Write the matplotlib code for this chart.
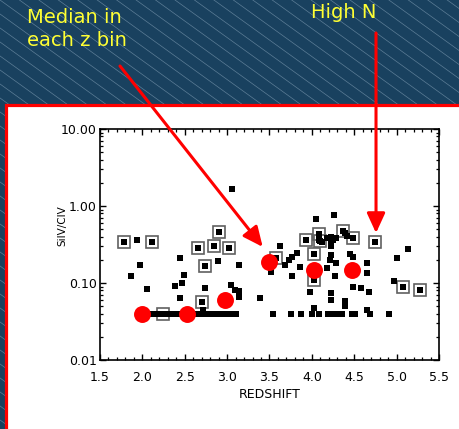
import matplotlib
matplotlib.use('Agg')
import matplotlib.pyplot as plt
from matplotlib.patches import Rectangle
from matplotlib.lines import Line2D
from matplotlib.ticker import FixedLocator, MultipleLocator, LogLocator, FuncFormatter, NullFormatter

W, H = 460, 429

# ---- data ----
plain_z = [1.94, 1.97, 1.87, 2.06,
           2.44, 2.49, 2.47, 2.39, 2.44,
           2.89, 2.74, 2.72,
           3.06, 3.14, 3.04, 3.09, 3.14, 3.14, 3.39,
           3.62, 3.52, 3.68, 3.73, 3.77, 3.83, 3.76, 3.86,
           4.05, 3.98, 4.03, 4.26,
           4.08, 4.12, 4.18, 4.22, 4.22, 4.25, 4.29, 4.39, 4.41,
           4.23, 4.23, 4.21, 4.18, 4.29, 4.45, 4.49,
           4.65, 4.65, 4.27, 4.48, 4.58, 4.67,
           4.23, 4.23, 4.39, 4.39,
           5.13, 5.00, 4.97, 4.65]
plain_ratio = [0.365, 0.171, 0.124, 0.083,
               0.209, 0.128, 0.099, 0.091, 0.063,
               0.193, 0.087, 0.045,
               1.66, 0.173, 0.094, 0.080, 0.078, 0.066, 0.064,
               0.30, 0.139, 0.171, 0.200, 0.216, 0.247, 0.124, 0.160,
               0.67, 0.077, 0.048, 0.76,
               0.36, 0.34, 0.38, 0.40, 0.35, 0.36, 0.38, 0.44, 0.41,
               0.30, 0.23, 0.20, 0.155, 0.184, 0.238, 0.216,
               0.18, 0.134, 0.123, 0.088, 0.085, 0.076,
               0.074, 0.061, 0.059, 0.050,
               0.28, 0.21, 0.107, 0.045]

floor_z = [2.10, 2.15, 2.20, 2.28, 2.32, 2.36, 2.40, 2.45, 2.58, 2.62,
           2.66, 2.70, 2.75, 2.82, 2.86, 2.90, 2.94, 2.98, 3.02, 3.06,
           3.10, 3.54, 3.75, 3.87, 4.00, 4.08, 4.19, 4.23, 4.27, 4.31,
           4.35, 4.47, 4.51, 4.69, 4.91]
floor_ratio = [0.04, 0.04, 0.04, 0.04, 0.04, 0.04, 0.04, 0.04, 0.04, 0.04,
               0.04, 0.04, 0.04, 0.04, 0.04, 0.04, 0.04, 0.04, 0.04, 0.04,
               0.04, 0.04, 0.04, 0.04, 0.04, 0.04, 0.04, 0.04, 0.04, 0.04,
               0.04, 0.04, 0.04, 0.04, 0.04]

boxed_z = [1.78, 2.11, 2.66, 2.85, 2.90, 2.74, 2.70, 3.02, 2.24,
           3.58, 3.93, 4.08, 4.10, 4.03, 4.02, 4.37, 4.48, 4.74, 5.07, 5.28]
boxed_ratio = [0.338, 0.338, 0.288, 0.299, 0.459, 0.166, 0.056, 0.283, 0.040,
               0.21, 0.358, 0.43, 0.35, 0.235, 0.109, 0.48, 0.38, 0.34, 0.0895, 0.080]

median_z = [2.00, 2.53, 2.97, 3.50, 4.03, 4.47]
median_ratio = [0.039, 0.039, 0.061, 0.19, 0.148, 0.148]

x_ticks = [1.5, 2.0, 2.5, 3.0, 3.5, 4.0, 4.5, 5.0, 5.5]
y_ticks = [0.01, 0.1, 1.0, 10.0]

# ---- figure ----
fig = plt.figure(figsize=(W / 100, H / 100), dpi=100)
fig.patch.set_facecolor('#19415f')

def fx(px):
    return px / W

def fy(py):
    return 1 - py / H

# diagonal hatching in background
c = -420
while c < H + 20:
    x0, x1 = -10, W + 10
    fig.add_artist(Line2D([fx(x0), fx(x1)], [fy(c + 0.72 * x0), fy(c + 0.72 * x1)],
                          transform=fig.transFigure, color='#8aa6bc', lw=0.5,
                          alpha=0.6, zorder=-3))
    c += 14

# white panel with red border
fig.add_artist(Rectangle((fx(6.5), fy(H + 20)), fx(W + 20), fy(104.5) - fy(H + 20),
                         transform=fig.transFigure, facecolor='white',
                         edgecolor='#ff0000', lw=2.3, zorder=-2))

ax = fig.add_axes([fx(100), fy(360), fx(439) - fx(100), fy(129) - fy(360)])
ax.set_facecolor('white')
ax.set_yscale('log')
ax.set_xlim(1.5, 5.5)
ax.set_ylim(0.01, 10)

ax.plot(boxed_z, boxed_ratio, linestyle='none', marker='s', ms=8.3,
        mfc='none', mec='#606060', mew=1.2, zorder=3)
ax.plot(boxed_z, boxed_ratio, linestyle='none', marker='s', ms=4.3,
        mfc='black', mec='black', mew=0, zorder=4)
ax.plot(plain_z, plain_ratio, linestyle='none', marker='s', ms=4.3,
        mfc='black', mec='black', mew=0, zorder=4)
ax.plot(floor_z, floor_ratio, linestyle='none', marker='s', ms=4.3,
        mfc='black', mec='black', mew=0, zorder=4)
ax.plot(median_z, median_ratio, linestyle='none', marker='o', ms=12.2,
        mfc='#ff0000', mec='#ff0000', mew=0, zorder=5)

ax.xaxis.set_major_locator(FixedLocator(x_ticks))
ax.xaxis.set_minor_locator(MultipleLocator(0.1))
ax.xaxis.set_major_formatter(FuncFormatter(lambda v, p: '%.1f' % v))
ax.yaxis.set_major_locator(FixedLocator(y_ticks))
ax.yaxis.set_minor_locator(LogLocator(base=10, subs=(2, 3, 4, 5, 6, 7, 8, 9)))
ax.yaxis.set_major_formatter(FuncFormatter(lambda v, p: '%.2f' % v))
ax.yaxis.set_minor_formatter(NullFormatter())

ax.tick_params(which='both', direction='in', top=True, right=True, color='black')
ax.tick_params(which='major', length=4.5, width=1.0)
ax.tick_params(which='minor', length=2.2, width=0.9)
ax.tick_params(axis='x', which='major', pad=8, labelsize=9)
ax.tick_params(axis='y', which='major', pad=2.5, labelsize=9)
for sp in ax.spines.values():
    sp.set_linewidth(1.2)

fig.text(fx(269.5), fy(394), 'REDSHIFT', ha='center', va='center', fontsize=9)
fig.text(fx(62), fy(226), 'SiIV/CIV', ha='center', va='center', fontsize=7.5,
         rotation=90)

# annotations
fig.text(fx(27), fy(8), 'Median in\neach z bin', ha='left', va='top',
         fontsize=14, color='#ffff33', linespacing=1.25)
fig.text(fx(344), fy(13), 'High N', ha='center', va='center',
         fontsize=14, color='#ffff33')

arrow_kw = dict(arrowstyle='-|>,head_length=12,head_width=5.5', color='#ff0000',
                lw=2.2, shrinkA=0, shrinkB=0, mutation_scale=1)
ax.annotate('', xy=(3.42, 0.294), xycoords='data',
            xytext=(fx(120), fy(66)), textcoords='figure fraction',
            arrowprops=arrow_kw, annotation_clip=False, zorder=10)
ax.annotate('', xy=(4.757, 0.445), xycoords='data',
            xytext=(fx(376), fy(33)), textcoords='figure fraction',
            arrowprops=arrow_kw, annotation_clip=False, zorder=10)

fig.savefig('out.png', dpi=100, facecolor=fig.get_facecolor())
